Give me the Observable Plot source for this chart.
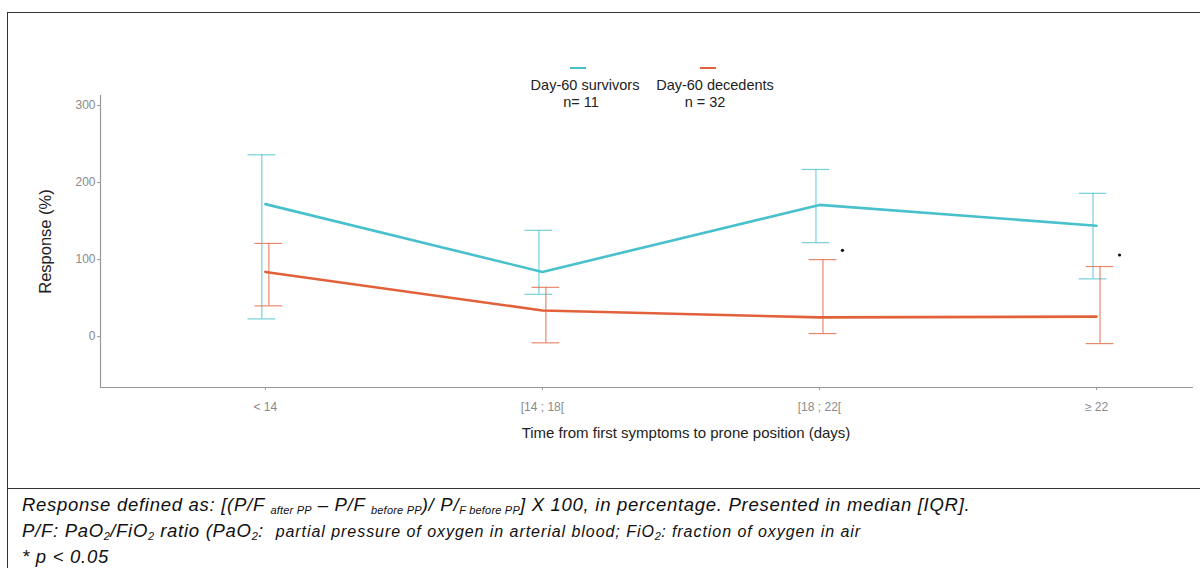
<!DOCTYPE html>
<html>
<head>
<meta charset="utf-8">
<script src="https://cdn.jsdelivr.net/npm/d3@7"></script>
<script src="https://cdn.jsdelivr.net/npm/@observablehq/plot@0.6"></script>
<style>
  html, body { margin: 0; padding: 0; background: #fff; width: 1200px; height: 568px; overflow: hidden; }
  #wrap { position: relative; width: 1200px; height: 568px; }
  #frame { position: absolute; left: 7px; top: 12px; width: 1200px; height: 600px; border-left: 1.5px solid #333; border-top: 1.5px solid #333; box-sizing: border-box; }
  #sep { position: absolute; left: 7px; top: 488px; width: 1200px; height: 0; border-top: 1.5px solid #333; }
  #chart { position: absolute; left: 0; top: 0; }
  .leg { position: absolute; font-family: "Liberation Sans", Arial, sans-serif; font-size: 14.5px; color: #222; text-align: center; line-height: 17px; white-space: nowrap; }
  .key { position: absolute; height: 2px; }
  #caption { position: absolute; left: 22px; top: 492px; font-family: "Liberation Sans", Arial, sans-serif; font-style: italic; font-size: 18.5px; letter-spacing: 0.72px; color: #111; }
  #caption div { height: 26px; line-height: 26px; white-space: nowrap; }
  #caption sub { font-size: 11px; letter-spacing: 0.2px; vertical-align: baseline; position: relative; top: 3px; line-height: 0; }
  #caption .sm { font-size: 16px; letter-spacing: 0.95px; }
</style>
</head>
<body>
<div id="wrap">
  <div id="frame"></div>
  <div id="sep"></div>
  <div id="chart"></div>
  <div id="legend"></div>
  <div id="caption">
    <div>Response defined as: [(P/F <sub>after PP</sub> – P/F <sub>before PP</sub>)/ P/<sub>F before PP</sub>] X 100, in percentage. Presented in median [IQR].</div>
    <div>P/F: PaO<sub>2</sub>/FiO<sub>2</sub> ratio (PaO<sub>2</sub>: &nbsp;<span class="sm">partial pressure of oxygen in arterial blood; FiO<sub>2</sub>: fraction of oxygen in air</span></div>
    <div>* p &lt; 0.05</div>
  </div>
</div>
<script>
const categories = ["< 14", "[14 ; 18[", "[18 ; 22[", "≥ 22"];
const survMedian = [172, 84, 171, 144];
const survQ1 = [23, 55, 122, 75];
const survQ3 = [236, 138, 217, 186];
const decMedian = [84, 34, 25, 26];
const decQ1 = [40, -8, 4, -9];
const decQ3 = [121, 64, 100, 91];
const sigCategories = ["[18 ; 22[", "≥ 22"];
const sigY = [112, 106];
const yTicks = [0, 100, 200, 300];
const seriesNames = ["Day-60 survivors", "Day-60 decedents"];
const seriesN = ["n= 11", "n = 32"];
const colors = ["#48c1cd", "#e2613b"];

const idx = c => categories.indexOf(c);
function rows(med, q1, q3) {
  return categories.map((c, i) => ({i, c, med: med[i], q1: q1[i], q3: q3[i]}));
}
const surv = rows(survMedian, survQ1, survQ3);
const dec = rows(decMedian, decQ1, decQ3);
const sig = sigCategories.map((c, k) => ({i: idx(c), y: sigY[k]}));
const capHalf = 0.05;

function errorMarks(data, color, dx) {
  return [
    Plot.ruleX(data, {x: "i", y1: "q1", y2: "q3", stroke: color, strokeWidth: 1.2, strokeOpacity: 0.75, dx}),
    Plot.ruleY(data, {x1: d => d.i - capHalf, x2: d => d.i + capHalf, y: "q3", stroke: color, strokeWidth: 1.2, strokeOpacity: 0.75, dx}),
    Plot.ruleY(data, {x1: d => d.i - capHalf, x2: d => d.i + capHalf, y: "q1", stroke: color, strokeWidth: 1.2, strokeOpacity: 0.75, dx})
  ];
}

const plot = Plot.plot({
  width: 1200,
  height: 489,
  marginLeft: 100,
  marginRight: 7,
  marginTop: 95,
  marginBottom: 102,
  style: {fontFamily: "Liberation Sans, Arial, sans-serif", background: "transparent", overflow: "visible"},
  x: {domain: [-0.595, 3.35], ticks: categories.map((c, i) => i), tickFormat: i => categories[i]},
  y: {domain: [-66, 313], ticks: yTicks},
  marks: [
    ...errorMarks(surv, colors[0], -3.5),
    ...errorMarks(dec, colors[1], 3.5),
    Plot.line(surv, {x: "i", y: "med", stroke: colors[0], strokeWidth: 2.6}),
    Plot.line(dec, {x: "i", y: "med", stroke: colors[1], strokeWidth: 2.6}),
    Plot.dot(sig, {x: "i", y: "y", r: 1.6, fill: "#111", dx: 23}),
    Plot.axisX({ticks: categories.map((c, i) => i), tickFormat: i => categories[i], tickSize: 3, tickPadding: 12, fontSize: 12, color: "#8a8a8a", stroke: "#999", label: null}),
    Plot.axisY({ticks: yTicks, tickSize: 3, tickPadding: 2, fontSize: 12, color: "#8a8a8a", stroke: "#999", label: null}),
    Plot.ruleX([-0.595], {stroke: "#999", strokeWidth: 1.2}),
    Plot.ruleY([-66], {stroke: "#999", strokeWidth: 1.2}),
    Plot.text(["Time from first symptoms to prone position (days)"], {frameAnchor: "bottom", dy: 50, dx: 39, fontSize: 15, fill: "#222"}),
    Plot.text(["Response (%)"], {frameAnchor: "left", textAnchor: "middle", dx: -55, rotate: -90, fontSize: 16.5, fill: "#222"})
  ]
});
document.getElementById("chart").appendChild(plot);

// legend
const legend = document.getElementById("legend");
const legendPos = [{cx: 585, ncx: 581, kx: 570}, {cx: 715, ncx: 705, kx: 700}];
seriesNames.forEach((name, k) => {
  const key = document.createElement("div");
  key.className = "key";
  key.style.left = legendPos[k].kx + "px";
  key.style.top = "67px";
  key.style.width = "16px";
  key.style.background = colors[k];
  legend.appendChild(key);
  const t = document.createElement("div");
  t.className = "leg";
  t.style.left = (legendPos[k].cx - 70) + "px";
  t.style.width = "140px";
  t.style.top = "77px";
  t.textContent = name;
  legend.appendChild(t);
  const n = document.createElement("div");
  n.className = "leg";
  n.style.left = (legendPos[k].ncx - 40) + "px";
  n.style.width = "80px";
  n.style.top = "94px";
  n.textContent = seriesN[k];
  legend.appendChild(n);
});
</script>
</body>
</html>
